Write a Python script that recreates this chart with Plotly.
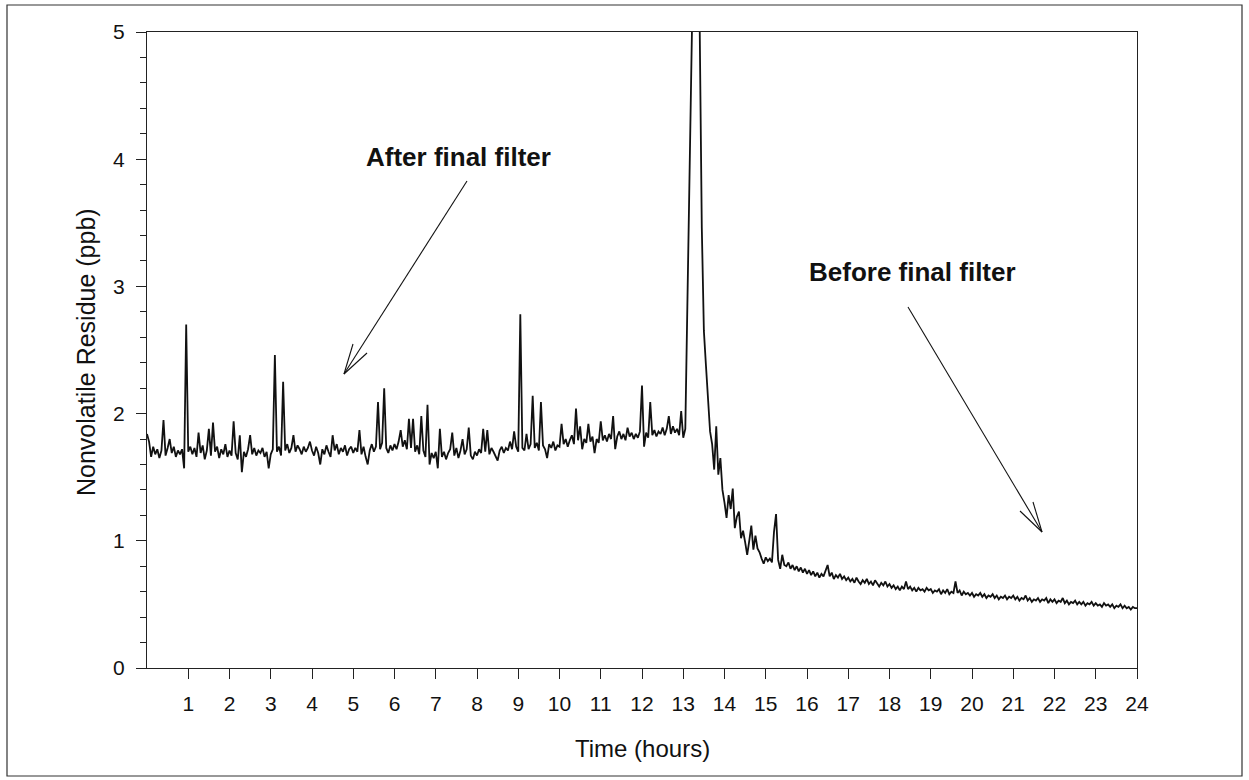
import plotly.graph_objects as go

# ---------------- data ----------------
time_hours = [round(i * 0.05, 2) for i in range(481)]

residue_h00 = [1.84, 1.78, 1.66, 1.74, 1.68, 1.72, 1.65, 1.71, 1.95, 1.67,
               1.73, 1.80, 1.69, 1.74, 1.66, 1.71, 1.68, 1.72, 1.57, 2.70]
residue_h01 = [1.70, 1.74, 1.68, 1.73, 1.66, 1.85, 1.69, 1.75, 1.64, 1.71,
               1.88, 1.67, 1.93, 1.70, 1.74, 1.65, 1.72, 1.68, 1.76, 1.66]
residue_h02 = [1.71, 1.67, 1.94, 1.69, 1.64, 1.83, 1.54, 1.70, 1.66, 1.72,
               1.83, 1.68, 1.73, 1.67, 1.71, 1.69, 1.73, 1.66, 1.70, 1.57]
residue_h03 = [1.68, 1.72, 2.46, 1.70, 1.74, 1.67, 2.25, 1.71, 1.76, 1.69,
               1.73, 1.83, 1.70, 1.75, 1.72, 1.68, 1.74, 1.70, 1.73, 1.78]
residue_h04 = [1.71, 1.67, 1.74, 1.69, 1.60, 1.72, 1.68, 1.75, 1.70, 1.66,
               1.83, 1.71, 1.76, 1.68, 1.73, 1.70, 1.75, 1.67, 1.72, 1.74]
residue_h05 = [1.69, 1.73, 1.70, 1.87, 1.68, 1.74, 1.66, 1.60, 1.71, 1.76,
               1.70, 1.74, 2.09, 1.72, 1.77, 2.20, 1.73, 1.69, 1.75, 1.71]
residue_h06 = [1.76, 1.72, 1.78, 1.87, 1.74, 1.79, 1.72, 1.96, 1.73, 1.96,
               1.70, 1.75, 1.68, 1.98, 1.71, 1.66, 2.07, 1.60, 1.69, 1.65]
residue_h07 = [1.70, 1.57, 1.88, 1.66, 1.70, 1.64, 1.69, 1.72, 1.85, 1.67,
               1.73, 1.65, 1.71, 1.80, 1.68, 1.72, 1.89, 1.67, 1.64, 1.70]
residue_h08 = [1.67, 1.72, 1.69, 1.88, 1.70, 1.87, 1.68, 1.73, 1.70, 1.66,
               1.63, 1.71, 1.74, 1.69, 1.73, 1.71, 1.78, 1.72, 1.86, 1.74]
residue_h09 = [1.70, 2.78, 1.73, 1.71, 1.84, 1.72, 1.76, 2.14, 1.73, 1.77,
               1.71, 2.09, 1.75, 1.72, 1.65, 1.76, 1.73, 1.78, 1.71, 1.75]
residue_h10 = [1.74, 1.92, 1.76, 1.80, 1.74, 1.79, 1.83, 1.76, 2.04, 1.79,
               1.90, 1.72, 1.80, 1.77, 1.92, 1.78, 1.82, 1.69, 1.80, 1.77]
residue_h11 = [1.94, 1.79, 1.83, 1.78, 1.84, 1.80, 1.98, 1.72, 1.82, 1.86,
               1.80, 1.84, 1.79, 1.89, 1.82, 1.85, 1.80, 1.84, 1.81, 1.86]
residue_h12 = [2.22, 1.74, 1.85, 1.81, 2.09, 1.83, 1.87, 1.82, 1.86, 1.84,
               1.89, 1.83, 1.88, 1.98, 1.84, 1.90, 1.85, 1.88, 1.83, 2.02]
residue_h13 = [1.81, 1.88, 2.96, 3.90, 4.80, 5.75, 6.60, 5.90, 5.00, 3.46,
               2.65, 2.38, 2.10, 1.86, 1.76, 1.56, 1.90, 1.52, 1.65, 1.40]
residue_h14 = [1.30, 1.18, 1.36, 1.25, 1.41, 1.10, 1.19, 1.23, 1.02, 1.08,
               0.99, 0.89, 1.00, 1.12, 0.93, 1.04, 0.94, 0.91, 0.86, 0.82]
residue_h15 = [0.87, 0.84, 0.86, 0.83, 1.07, 1.21, 0.85, 0.78, 0.89, 0.81,
               0.80, 0.83, 0.78, 0.81, 0.77, 0.80, 0.76, 0.79, 0.75, 0.78]
residue_h16 = [0.74, 0.77, 0.73, 0.76, 0.72, 0.75, 0.71, 0.74, 0.72, 0.76,
               0.81, 0.72, 0.75, 0.70, 0.73, 0.71, 0.74, 0.70, 0.72, 0.69]
residue_h17 = [0.71, 0.68, 0.70, 0.67, 0.71, 0.68, 0.66, 0.69, 0.67, 0.70,
               0.66, 0.68, 0.65, 0.69, 0.66, 0.64, 0.67, 0.65, 0.68, 0.64]
residue_h18 = [0.66, 0.63, 0.65, 0.62, 0.64, 0.61, 0.64, 0.62, 0.68, 0.62,
               0.64, 0.61, 0.63, 0.60, 0.63, 0.61, 0.62, 0.60, 0.63, 0.61]
residue_h19 = [0.62, 0.59, 0.61, 0.60, 0.62, 0.58, 0.61, 0.59, 0.62, 0.58,
               0.60, 0.59, 0.68, 0.59, 0.61, 0.57, 0.60, 0.58, 0.59, 0.57]
residue_h20 = [0.59, 0.56, 0.58, 0.57, 0.59, 0.56, 0.58, 0.55, 0.57, 0.56,
               0.58, 0.55, 0.57, 0.54, 0.56, 0.55, 0.57, 0.54, 0.56, 0.55]
residue_h21 = [0.57, 0.54, 0.56, 0.53, 0.55, 0.54, 0.57, 0.53, 0.55, 0.52,
               0.54, 0.53, 0.55, 0.52, 0.54, 0.53, 0.55, 0.51, 0.54, 0.52]
residue_h22 = [0.54, 0.51, 0.53, 0.52, 0.55, 0.51, 0.53, 0.50, 0.52, 0.51,
               0.53, 0.50, 0.52, 0.50, 0.52, 0.49, 0.51, 0.50, 0.52, 0.49]
residue_h23 = [0.51, 0.49, 0.50, 0.48, 0.51, 0.49, 0.50, 0.48, 0.50, 0.47,
               0.49, 0.48, 0.50, 0.47, 0.49, 0.47, 0.48, 0.46, 0.48, 0.47]
residue_end = [0.47]

residue_ppb = (residue_h00 + residue_h01 + residue_h02 + residue_h03 + residue_h04 +
               residue_h05 + residue_h06 + residue_h07 + residue_h08 + residue_h09 +
               residue_h10 + residue_h11 + residue_h12 + residue_h13 + residue_h14 +
               residue_h15 + residue_h16 + residue_h17 + residue_h18 + residue_h19 +
               residue_h20 + residue_h21 + residue_h22 + residue_h23 + residue_end)

x_tick_vals = list(range(1, 25))
x_tick_text = [str(v) for v in x_tick_vals]
y_tick_vals = [0, 1, 2, 3, 4, 5]
y_tick_text = [str(v) for v in y_tick_vals]
x_title = "Time (hours)"
y_title = "Nonvolatile Residue (ppb)"
label_after = "After final filter"
label_before = "Before final filter"

# ---------------- layout geometry ----------------
W, H = 1249, 780
L, R, T, B = 147, 1137, 32, 668
FONT = "Liberation Sans, Arial, Helvetica, sans-serif"
INK = "#111111"


def pp(xp, yp):
    """pixel position -> paper coordinates"""
    return (xp - L) / (R - L), (B - yp) / (B - T)


fig = go.Figure()
fig.add_trace(go.Scatter(
    x=time_hours, y=residue_ppb, mode="lines",
    line=dict(color=INK, width=1.8), hoverinfo="x+y", showlegend=False,
))

shapes = []
# outer frame around the whole figure
fx0, fy0 = pp(7, 776)
fx1, fy1 = pp(1242, 5)
shapes.append(dict(type="rect", xref="paper", yref="paper", x0=fx0, y0=fy0, x1=fx1, y1=fy1,
                   line=dict(color="#333333", width=1.2), fillcolor="rgba(0,0,0,0)", layer="above"))


def seg(a, b, w=1.1):
    x0, y0 = pp(*a)
    x1, y1 = pp(*b)
    return dict(type="line", xref="paper", yref="paper", x0=x0, y0=y0, x1=x1, y1=y1,
                line=dict(color=INK, width=w), layer="above")


# "After final filter" arrow
shapes += [seg((467, 181), (344, 374)), seg((344, 374), (353, 344)), seg((344, 374), (367, 353))]
# "Before final filter" arrow
shapes += [seg((908, 307), (1042, 532)), seg((1042, 532), (1033, 502)), seg((1042, 532), (1020, 511))]

annotations = []
ax_, ay_ = pp(458, 157)
annotations.append(dict(text="<b>%s</b>" % label_after, xref="paper", yref="paper", x=ax_, y=ay_,
                        showarrow=False, xanchor="center", yanchor="middle",
                        font=dict(family=FONT, size=26, color=INK)))
bx_, by_ = pp(912, 272)
annotations.append(dict(text="<b>%s</b>" % label_before, xref="paper", yref="paper", x=bx_, y=by_,
                        showarrow=False, xanchor="center", yanchor="middle",
                        font=dict(family=FONT, size=26, color=INK)))
tx, ty = pp(642, 748)
annotations.append(dict(text=x_title, xref="paper", yref="paper", x=tx, y=ty, showarrow=False,
                        xanchor="center", yanchor="middle", font=dict(family=FONT, size=24, color=INK)))
yx, yy = pp(86, 352)
annotations.append(dict(text=y_title, xref="paper", yref="paper", x=yx, y=yy, showarrow=False,
                        textangle=-90, xanchor="center", yanchor="middle",
                        font=dict(family=FONT, size=25, color=INK)))

fig.update_layout(
    width=W, height=H,
    margin=dict(l=L, r=W - R, t=T, b=H - B, autoexpand=False),
    paper_bgcolor="white", plot_bgcolor="white",
    font=dict(family=FONT, color=INK),
    shapes=shapes, annotations=annotations,
    xaxis=dict(range=[0, 24], tickmode="array", tickvals=x_tick_vals, ticktext=x_tick_text,
               ticks="outside", ticklen=10, tickwidth=1, tickcolor="#222222",
               showline=True, linecolor="#222222", linewidth=1.3, mirror=True,
               showgrid=False, zeroline=False, tickfont=dict(family=FONT, size=21, color=INK),
               ticklabelstandoff=7),
    yaxis=dict(range=[0, 5], tickmode="array", tickvals=y_tick_vals, ticktext=y_tick_text,
               ticks="outside", ticklen=10, tickwidth=1, tickcolor="#222222",
               minor=dict(dtick=0.2, ticks="outside", ticklen=6, tickcolor="#222222", showgrid=False),
               showline=True, linecolor="#222222", linewidth=1.3, mirror=True,
               showgrid=False, zeroline=False, tickfont=dict(family=FONT, size=21, color=INK),
               ticklabelstandoff=7),
)

fig.write_html("out.html")
